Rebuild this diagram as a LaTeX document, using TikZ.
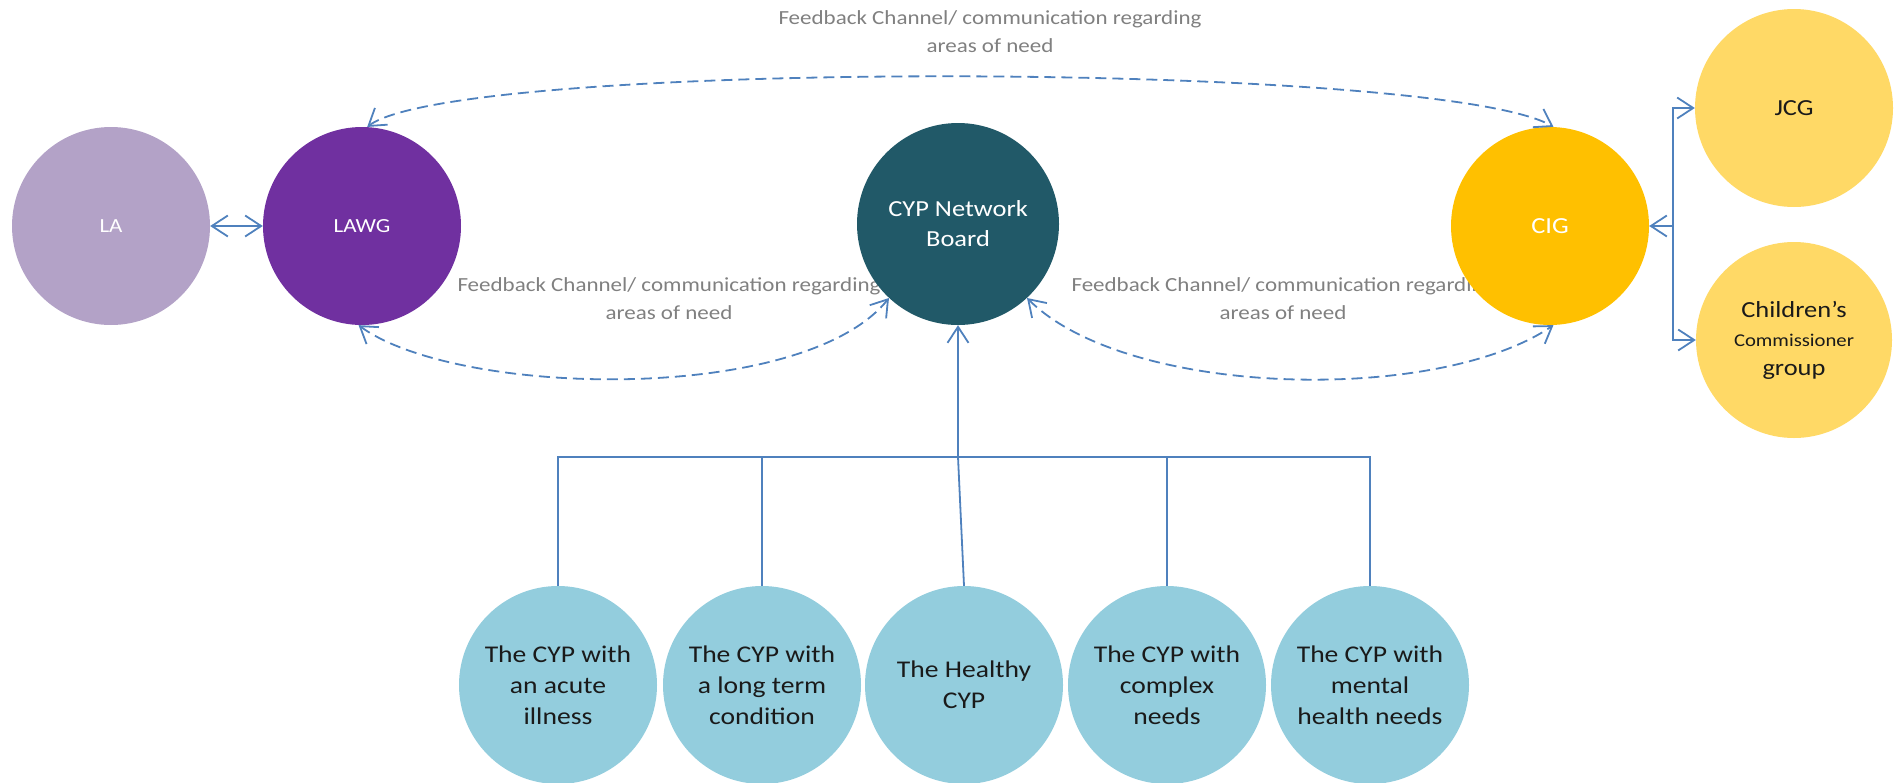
\documentclass[tikz,border=0pt]{standalone}
\usepackage{fontspec}
\setmainfont{Carlito}[FakeStretch=1.15]
\usetikzlibrary{arrows.meta}
\definecolor{laLilac}{HTML}{B3A2C7}
\definecolor{lawgPurple}{HTML}{7030A0}
\definecolor{boardTeal}{HTML}{215968}
\definecolor{cigGold}{HTML}{FFC000}
\definecolor{paleGold}{HTML}{FFD966}
\definecolor{cypBlue}{HTML}{93CDDD}
\definecolor{linkBlue}{HTML}{4F81BD}
\definecolor{noteGray}{HTML}{808080}
\definecolor{inkDark}{HTML}{1A1A1A}

\begin{document}
\begin{tikzpicture}[x=1pt, y=-1pt,
  >={Straight Barb[length=16pt, width=21pt]},
  bubble/.style={circle, minimum size=198pt, inner sep=0pt, align=center},
  link/.style={draw=linkBlue, line width=1.8pt},
  feedback/.style={link, dash pattern=on 11pt off 6pt},
  note/.style={align=center, text=noteGray, font=\fontsize{20}{28}\selectfont},
  cypbubble/.style={bubble, fill=cypBlue, text=inkDark, font=\fontsize{24}{31}\selectfont}
]
\useasboundingbox (0,0) rectangle (1898,782);

% notes on the feedback channels (drawn first so the circles sit over them)
\node[note] (noteTop)   at (990, 32)  {Feedback Channel/ communication regarding\\areas of need};
\node[note] (noteLeft)  at (669, 299) {Feedback Channel/ communication regarding\\areas of need};
\node[note] (noteRight) at (1283, 299) {Feedback Channel/ communication regarding\\areas of need};

% upper row
\node[bubble, fill=laLilac, text=white, font=\fontsize{20}{24}\selectfont] (LA) at (111, 226) {LA};
\node[bubble, fill=lawgPurple, text=white, font=\fontsize{20}{24}\selectfont] (LAWG) at (362, 226) {LAWG};
\node[bubble, minimum size=202pt, fill=boardTeal, text=white, font=\fontsize{23}{30}\selectfont] (CYP) at (958, 224) {CYP Network\\Board};
\node[bubble, fill=cigGold, text=white, font=\fontsize{23}{28}\selectfont] (CIG) at (1550, 226) {CIG};
\node[bubble, fill=paleGold, text=inkDark, font=\fontsize{23}{28}\selectfont] (JCG) at (1794, 108) {JCG};
\node[bubble, minimum size=196pt, fill=paleGold, text=inkDark, font=\fontsize{23}{29}\selectfont] (Comm) at (1794, 340)
  {Children’s\\{\fontsize{18}{29}\selectfont Commissioner}\\group};

% lower row
\node[cypbubble] (acute)   at (558, 685)  {The CYP with\\an acute\\illness};
\node[cypbubble] (longterm) at (762, 685) {The CYP with\\a long term\\condition};
\node[cypbubble] (healthy) at (964, 685)  {The Healthy\\CYP};
\node[cypbubble] (complex) at (1167, 685) {The CYP with\\complex\\needs};
\node[cypbubble] (mental)  at (1370, 685) {The CYP with\\mental\\health needs};

% tree into the network board
\coordinate (bus) at (958, 457);
\draw[link, ->] (bus) -- (CYP.south);
\draw[link] (acute.north) |- (bus);
\draw[link] (longterm.north) |- (bus);
\draw[link] (healthy.north) -- (bus);
\draw[link] (complex.north) |- (bus);
\draw[link] (mental.north) |- (bus);

% LA and LAWG
\draw[link, <->] (LA.east) -- (LAWG.west);

% CIG with JCG and the Children's Commissioner group
\coordinate (hub) at (1673, 226);
\draw[link, ->] (hub) -- (CIG.east);
\draw[link, ->] (hub) |- (JCG.west);
\draw[link, ->] (hub) |- (Comm.west);

% feedback channels
\draw[feedback, <->] (LAWG.87) .. controls +(90,-68) and +(-115,-66) .. (CIG.88);
\draw[feedback, <->] (LAWG.268) .. controls +(98,72) and +(-86,107) .. (CYP.227);
\draw[feedback, <->] (CYP.313) .. controls +(100,100) and +(-116,79) .. (CIG.272);
\end{tikzpicture}
\end{document}
